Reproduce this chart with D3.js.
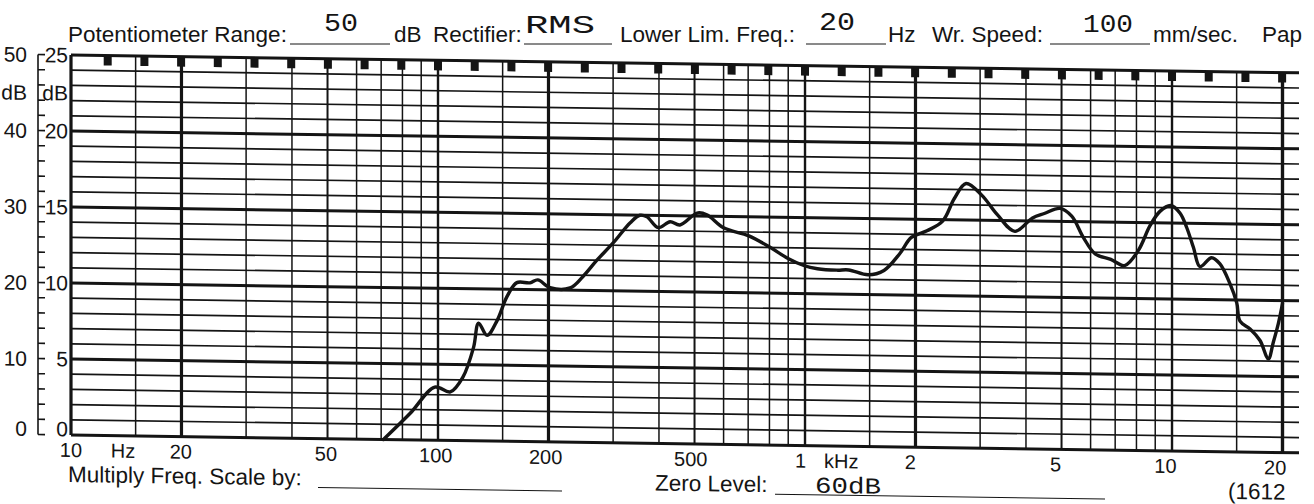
<!DOCTYPE html>
<html><head><meta charset="utf-8">
<script src="https://cdn.jsdelivr.net/npm/d3@7"></script>
<style>body{margin:0;background:#fff;} svg{display:block;}</style>
</head><body><svg id="c" width="1314" height="504"></svg>
<script>
// ---------------- data ----------------
const freqHz = [71, 84, 98, 108, 117, 125, 129, 136, 145, 154, 164, 178, 187, 202, 229, 248, 271, 300, 334, 355, 371, 398, 429, 456, 508, 540, 600, 703, 805, 899, 992, 1081, 1222, 1315, 1486, 1641, 1809, 1949, 2149, 2371, 2552, 2747, 3030, 3342, 3733, 4168, 4487, 4954, 5330, 5737, 6173, 6810, 7425, 8089, 8710, 9270, 9920, 10520, 10970, 11440, 11920, 12820, 13510, 14390, 15010, 15320, 16320, 17370, 18300, 18880, 19490, 20000];
const levelDb = [0, 3.5, 7.0, 6.4, 8.4, 12.3, 15.5, 13.9, 15.9, 19.0, 20.9, 20.9, 21.3, 20.3, 20.3, 21.8, 24.0, 26.3, 29.0, 30.0, 29.8, 28.4, 29.2, 28.8, 30.4, 30.2, 28.5, 27.5, 26.0, 24.6, 23.7, 23.3, 23.15, 23.2, 22.6, 23.2, 25.4, 27.6, 28.5, 29.8, 32.8, 34.8, 33.3, 30.75, 28.6, 30.4, 31.0, 31.7, 30.7, 27.9, 25.8, 25.1, 24.3, 26.3, 29.6, 31.5, 32.3, 31.3, 29.4, 26.8, 24.3, 25.5, 24.7, 22.1, 19.6, 17.2, 16.2, 14.7, 12.3, 14.5, 17.0, 19.6];
const dbLabelsOuter = ["50", "dB", "40", "30", "20", "10", "0"];
const dbLabelsInner = ["25", "dB", "20", "15", "10", "5", "0"];
const dbLabelValues = [50, 45, 40, 30, 20, 10, 0];
const freqTickValues = [10, 20, 50, 100, 200, 500, 1000, 2000, 5000, 10000, 20000];
const freqTickLabels = ["10", "20", "50", "100", "200", "500", "1", "2", "5", "10", "20"];
const gridMultipliers = [1, 1.5, 2, 3, 4, 5, 6, 7, 8, 9];
const headerPrinted = ["Potentiometer Range:", "dB", "Rectifier:", "Lower Lim. Freq.:", "Hz", "Wr. Speed:", "mm/sec.", "Pap"];
const headerTyped = ["50", "RMS", "20", "100"];
const footerPrinted = ["Multiply Freq. Scale by:", "Zero Level:", "(1612"];
const footerTyped = ["60dB"];
const unitLabels = ["Hz", "kHz"];

// ---------------- layout ----------------
const svg = d3.select("#c");
const X0 = 71, X1 = 1282.5, Y0 = 435, Y1 = 55;
const x = d3.scaleLog().domain([10, 20000]).range([X0, X1]);
const y = d3.scaleLinear().domain([0, 50]).range([Y0, Y1]);
const skew = 0.0145;
const ink = "#141414";
const sans = "'Liberation Sans', Arial, Helvetica, sans-serif";
const mono = "'Liberation Mono', 'Courier New', monospace";

svg.append("rect").attr("width", 1314).attr("height", 504).attr("fill", "#fff");

// header (flat)
const hdr = svg.append("g").attr("font-family", sans).attr("font-size", 22.5).attr("fill", ink);
const hdrX = [68, 394, 433, 620, 888, 932, 1153, 1262];
headerPrinted.forEach((t, i) => hdr.append("text").attr("x", hdrX[i]).attr("y", 42).text(t));
const ulines = [[290, 390], [524, 612], [806, 886], [1050, 1150]];
ulines.forEach(u => hdr.append("line").attr("x1", u[0]).attr("x2", u[1]).attr("y1", 44).attr("y2", 44)
  .attr("stroke", ink).attr("stroke-width", 1));
const typedX = [341, 560, 837, 1108], typedY = [31, 33, 30, 32], typedW = [34, 70, 36, 50];
headerTyped.forEach((t, i) => hdr.append("text").attr("x", typedX[i] - typedW[i] / 2).attr("y", typedY[i])
  .attr("font-family", mono).attr("font-size", 25).attr("textLength", typedW[i]).attr("lengthAdjust", "spacingAndGlyphs").text(t));

// skewed paper group
const g = svg.append("g").attr("transform", `translate(0,${-skew * X0}) skewY(${Math.atan(skew) * 180 / Math.PI})`);

// horizontal grid lines every 2 dB
const hVals = d3.range(0, 51, 2);
g.append("g").selectAll("line").data(hVals).join("line")
  .attr("x1", X0).attr("x2", 1299)
  .attr("y1", d => y(d)).attr("y2", d => y(d))
  .attr("stroke", ink)
  .attr("stroke-width", d => d % 10 === 0 ? 3 : 1.7);

// vertical grid lines
const vVals = [];
[10, 100, 1000, 10000].forEach(dec => gridMultipliers.forEach(m => { const f = dec * m; if (f <= 20000) vVals.push({ f, m }); }));
vVals.push({ f: 20000, m: 2 });
g.append("g").selectAll("line").data(vVals).join("line")
  .attr("x1", d => x(d.f)).attr("x2", d => x(d.f))
  .attr("y1", Y1).attr("y2", Y0)
  .attr("stroke", ink)
  .attr("stroke-width", d => (d.m === 2 || d.f === 10) ? 3.2 : d.m === 1 ? 2.4 : d.m === 5 ? 2 : 1.5);

// top marks every 0.1 decade
const marks = d3.range(1, 34).map(k => 10 * Math.pow(10, k / 10));
g.append("g").selectAll("rect").data(marks).join("rect")
  .attr("x", d => x(d) - 4).attr("y", Y1).attr("width", 8).attr("height", 10).attr("fill", ink);

// left dual scale
const ax = g.append("g").attr("font-family", sans).attr("font-size", 21).attr("fill", ink);
ax.append("line").attr("x1", 38).attr("x2", 38).attr("y1", Y1).attr("y2", Y0).attr("stroke", ink).attr("stroke-width", 1.6);
ax.selectAll("line.t").data(hVals).join("line").attr("class", "t")
  .attr("x1", 38).attr("x2", 45).attr("y1", d => y(d)).attr("y2", d => y(d))
  .attr("stroke", ink).attr("stroke-width", 1.6);
dbLabelValues.forEach((v, i) => {
  const yy = y(v) + (v === 0 ? -6 : 0);
  ax.append("text").attr("x", 27).attr("y", yy).attr("dy", "0.36em").attr("text-anchor", "end").text(dbLabelsOuter[i]);
  ax.append("text").attr("x", 68).attr("y", yy).attr("dy", "0.36em").attr("text-anchor", "end").text(dbLabelsInner[i]);
});

// frequency labels
const fl = g.append("g").attr("font-family", sans).attr("font-size", 20).attr("fill", ink);
freqTickValues.forEach((f, i) => {
  const px = x(f);
  fl.append("text").attr("x", px - 0.006 * (px - X0)).attr("y", 457).attr("text-anchor", "middle").text(freqTickLabels[i]);
});
fl.append("text").attr("x", 123).attr("y", 457).attr("text-anchor", "middle").text(unitLabels[0]);
fl.append("text").attr("x", 824).attr("y", 457).text(unitLabels[1]);

// footer
const ft = g.append("g").attr("font-family", sans).attr("font-size", 22.5).attr("fill", ink);
const ftX = [68, 655, 1228];
footerPrinted.forEach((t, i) => ft.append("text").attr("x", ftX[i]).attr("y", 482).text(t));
[[318, 562], [775, 1105]].forEach(u => ft.append("line").attr("x1", u[0]).attr("x2", u[1]).attr("y1", 484).attr("y2", 484)
  .attr("stroke", ink).attr("stroke-width", 1));
ft.append("text").attr("x", 815).attr("y", 482).attr("font-family", mono).attr("font-size", 23)
  .attr("textLength", 66).attr("lengthAdjust", "spacingAndGlyphs").text(footerTyped[0]);

// response curve
const line = d3.line().x((d, i) => x(freqHz[i])).y((d) => y(d)).curve(d3.curveCatmullRom.alpha(0.5));
g.append("path").attr("d", line(levelDb)).attr("fill", "none").attr("stroke", ink)
  .attr("stroke-width", 3.4).attr("stroke-linejoin", "round").attr("stroke-linecap", "round");
</script></body></html>
